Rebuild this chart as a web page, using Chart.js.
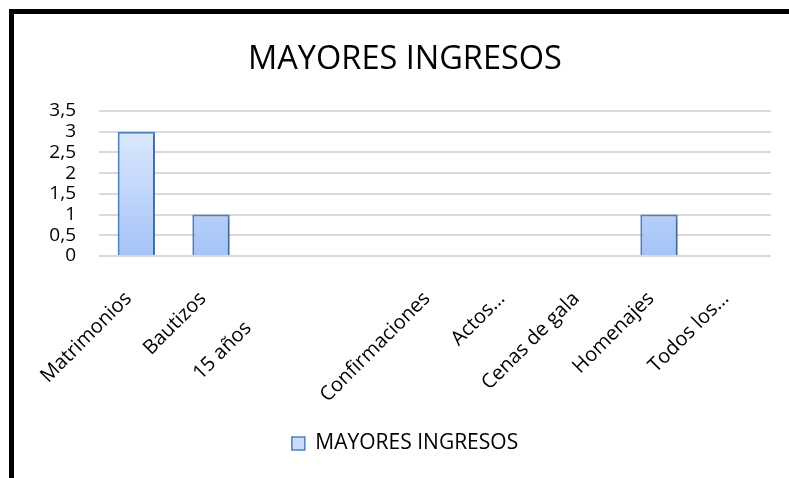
<!DOCTYPE html>
<html>
<head>
<meta charset="utf-8">
<script src="https://cdn.jsdelivr.net/npm/chart.js@4"></script>
<style>
  html, body { margin: 0; padding: 0; background: #fff; }
  body { width: 789px; height: 478px; overflow: hidden; position: relative; }
  #frame {
    position: absolute; left: 9px; top: 9px; width: 800px; height: 500px;
    border-left: 5px solid #000; border-top: 5px solid #000;
  }
  #wrap { position: absolute; left: 14px; top: 14px; width: 775px; height: 464px; }
</style>
</head>
<body>
<div id="frame"></div>
<div id="wrap"><canvas id="chart"></canvas></div>
<script>
// category names as they show on the axis (the trailing blanks push "15 años" down like the original)
const categories = ["Matrimonios", "Bautizos", "15 años        ", "", "Confirmaciones", "Actos…", "Cenas de gala", "Homenajes", "Todos los…"];
const ingresos = [3, 1, 0, 0, 0, 0, 0, 1, 0];
const seriesName = "MAYORES INGRESOS";
const yTicks = [0, 0.5, 1, 1.5, 2, 2.5, 3, 3.5];

const font = "'Open Sans', 'Noto Sans', sans-serif";

function barFill(ctx) {
  const chart = ctx.chart;
  const area = chart.chartArea;
  if (!area) return "#c5d9f8";
  const g = chart.ctx.createLinearGradient(0, area.top, 0, area.bottom);
  g.addColorStop(0, "#e4eefe");
  g.addColorStop(1, "#a4c3f7");
  return g;
}

// soft shadow behind the bars, like the office chart
const barShadow = {
  id: "barShadow",
  beforeDatasetsDraw(chart) {
    const c = chart.ctx;
    c.save();
    c.shadowColor = "rgba(0,0,0,0.22)";
    c.shadowBlur = 3;
    c.shadowOffsetX = 2;
    c.shadowOffsetY = 1;
  },
  afterDatasetsDraw(chart) {
    chart.ctx.restore();
  }
};

new Chart(document.getElementById("chart"), {
  type: "bar",
  data: {
    labels: categories,
    datasets: [{
      label: seriesName,
      data: ingresos,
      backgroundColor: barFill,
      borderColor: "#4f81bd",
      borderWidth: 2,
      barPercentage: 0.5,
      categoryPercentage: 1
    }]
  },
  plugins: [barShadow],
  options: {
    responsive: true,
    maintainAspectRatio: false,
    animation: false,
    locale: "es-ES",
    layout: { padding: { left: 25, right: 18, top: 0, bottom: 14 } },
    plugins: {
      title: {
        display: true,
        text: seriesName,
        color: "#000",
        font: { family: font, size: 32.5, weight: "normal" },
        padding: { top: 26, bottom: 32 }
      },
      legend: {
        position: "bottom",
        labels: {
          color: "#000",
          font: { family: font, size: 21 },
          boxWidth: 13,
          boxHeight: 13,
          padding: 10,
          generateLabels: () => [{
            text: seriesName,
            fillStyle: "#c9dcf9",
            strokeStyle: "#4f81bd",
            lineWidth: 1.5,
            fontColor: "#000"
          }]
        }
      },
      tooltip: { enabled: false }
    },
    scales: {
      x: {
        grid: { display: false },
        border: { display: false },
        afterFit: axis => { axis.height = 167; },
        ticks: {
          color: "#000",
          font: { family: font, size: 20 },
          minRotation: 45,
          maxRotation: 45,
          autoSkip: false,
          padding: 23,
          labelOffset: -8
        }
      },
      y: {
        min: 0,
        max: 3.5,
        afterBuildTicks: axis => { axis.ticks = yTicks.map(v => ({ value: v })); },
        afterFit: axis => { axis.width = 60; },
        grid: { color: "#d9d9d9", lineWidth: 2, drawTicks: false },
        border: { display: false },
        ticks: {
          color: "#000",
          font: { family: font, size: 19 },
          padding: 23,
          autoSkip: false,
          callback: v => String(v).replace(".", ",")
        }
      }
    }
  }
});
</script>
</body>
</html>
